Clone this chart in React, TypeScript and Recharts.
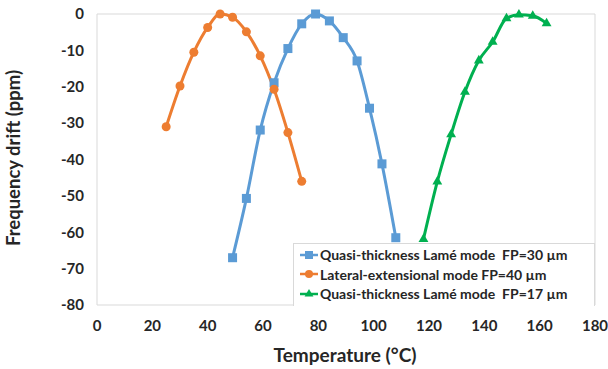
import { LineChart, Line, XAxis, YAxis, ReferenceArea, Symbols } from 'recharts';

// Quasi-thickness Lamé mode FP=30 µm
const blueTemps = [49, 54, 59, 64, 69, 74, 79, 84, 89, 94, 98.5, 103, 108];
const blueDrift = [-67, -50.7, -31.9, -18.9, -9.5, -2.7, 0, -1.9, -6.5, -12.9, -25.9, -41.2, -61.5];

// Lateral-extensional mode FP=40 µm
const orangeTemps = [25, 30, 35, 40, 44.5, 49, 54, 59, 64, 69, 74];
const orangeDrift = [-31, -19.8, -10.5, -3.7, 0, -0.9, -4.9, -11.5, -20.7, -32.6, -46];

// Quasi-thickness Lamé mode FP=17 µm
const greenTemps = [118, 123, 128, 133, 138, 143, 148, 152.5, 157.5, 162.5];
const greenDrift = [-61.9, -46.1, -33.1, -21.4, -12.8, -7.7, -1.2, -0.2, -0.5, -2.6];

const xTicks = [0, 20, 40, 60, 80, 100, 120, 140, 160, 180];
const yTicks = [0, -10, -20, -30, -40, -50, -60, -70, -80];

const seriesNames = [
  'Quasi-thickness Lamé mode  FP=30 µm',
  'Lateral-extensional mode FP=40 µm',
  'Quasi-thickness Lamé mode  FP=17 µm',
];

const toRows = (xs: number[], ys: number[]) => xs.map((x, i) => ({ x, y: ys[i] }));

const BLUE = '#5B9BD5';
const ORANGE = '#ED7D31';
const GREEN = '#00B050';
const FONT = 'Lato, "Open Sans", sans-serif';

const SquareDot = (p: any) => (
  <rect key={p.index} x={p.cx - 4.5} y={p.cy - 4.5} width={9} height={9} fill={BLUE} />
);
const CircleDot = (p: any) => <circle key={p.index} cx={p.cx} cy={p.cy} r={4.5} fill={ORANGE} />;
const TriangleDot = (p: any) => (
  <Symbols key={p.index} cx={p.cx} cy={p.cy} type='triangle' size={42} fill={GREEN} />
);

const LegendBox = () => {
  const icons = [
    <rect x={5} y={3} width={8} height={8} fill={BLUE} />,
    <circle cx={9} cy={7} r={4} fill={ORANGE} />,
    <Symbols cx={9} cy={7} type='triangle' size={34} fill={GREEN} />,
  ];
  const colors = [BLUE, ORANGE, GREEN];
  return (
    <div
      style={{
        position: 'absolute',
        left: 293,
        top: 243,
        width: 302,
        height: 63,
        boxSizing: 'border-box',
        background: '#fff',
        border: '1px solid #d9d9d9',
        borderBottom: 'none',
        padding: '1px 0 0 6px',
        fontFamily: FONT,
        fontSize: 14,
        fontWeight: 700,
        color: '#262626',
      }}
    >
      {seriesNames.map((name, i) => (
        <div key={name} style={{ display: 'flex', alignItems: 'center', height: 19.5, whiteSpace: 'pre' }}>
          <svg width={19} height={14} style={{ marginRight: 1 }}>
            <line x1={0} y1={7} x2={18} y2={7} stroke={colors[i]} strokeWidth={2.5} />
            {icons[i]}
          </svg>
          <span>{name}</span>
        </div>
      ))}
    </div>
  );
};

const App = () => {
  return (
    <div style={{ position: 'absolute', left: 0, top: 0, width: 608, height: 369, background: '#fff' }}>
      <LineChart width={608} height={369} margin={{ top: 14, right: 13, left: 0, bottom: 0 }}>
        <XAxis
          type='number'
          dataKey='x'
          domain={[0, 180]}
          ticks={xTicks}
          height={64}
          axisLine={false}
          tickLine={false}
          tickMargin={9}
          tick={{ fill: '#262626', fontSize: 15, fontWeight: 700, fontFamily: FONT }}
          label={() => (
            <text x={345} y={362} textAnchor='middle' fill='#262626' fontSize={19} fontWeight={700} fontFamily={FONT}>
              Temperature (°C)
            </text>
          )}
        />
        <YAxis
          type='number'
          dataKey='y'
          domain={[-80, 0]}
          ticks={yTicks}
          width={97}
          axisLine={false}
          tickLine={false}
          tickMargin={7}
          tick={{ fill: '#262626', fontSize: 15, fontWeight: 700, fontFamily: FONT }}
          label={() => (
            <text
              x={20}
              y={158}
              transform='rotate(-90 20 158)'
              textAnchor='middle'
              fill='#262626'
              fontSize={18.5}
              fontWeight={700}
              fontFamily={FONT}
            >
              Frequency drift (ppm)
            </text>
          )}
        />
        <ReferenceArea x1={0} x2={180} y1={-80} y2={0} fill='none' stroke='#d9d9d9' strokeWidth={1} />
        <Line
          data={toRows(blueTemps, blueDrift)}
          dataKey='y'
          name={seriesNames[0]}
          type='monotone'
          stroke={BLUE}
          strokeWidth={3}
          dot={SquareDot}
          isAnimationActive={false}
        />
        <Line
          data={toRows(orangeTemps, orangeDrift)}
          dataKey='y'
          name={seriesNames[1]}
          type='monotone'
          stroke={ORANGE}
          strokeWidth={3}
          dot={CircleDot}
          isAnimationActive={false}
        />
        <Line
          data={toRows(greenTemps, greenDrift)}
          dataKey='y'
          name={seriesNames[2]}
          type='monotone'
          stroke={GREEN}
          strokeWidth={3}
          dot={TriangleDot}
          isAnimationActive={false}
        />
      </LineChart>
      <LegendBox />
    </div>
  );
};

export default App;
